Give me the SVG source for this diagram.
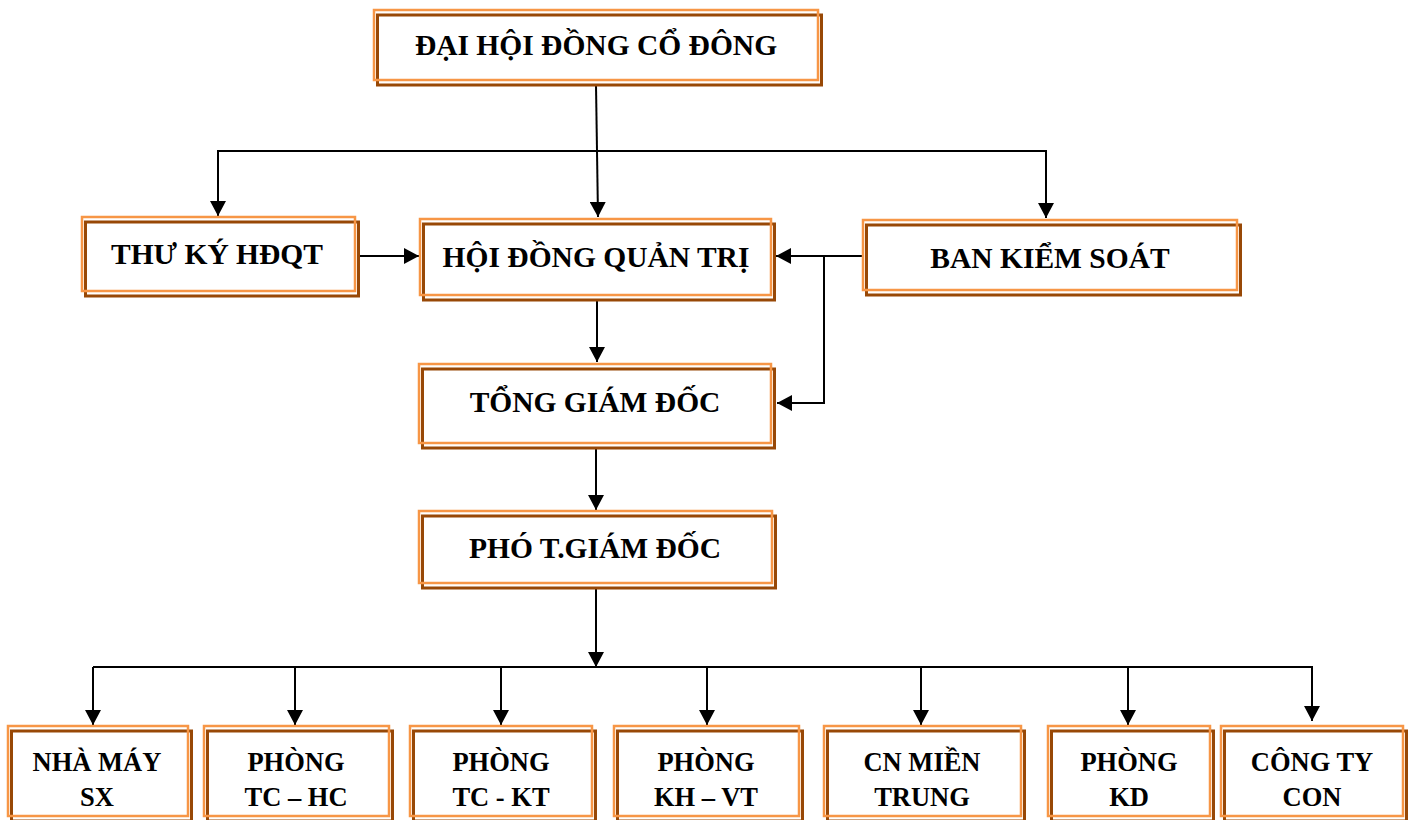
<svg xmlns="http://www.w3.org/2000/svg" width="1408" height="820" viewBox="0 0 1408 820">
<style>
.sh{fill:none;stroke:#984806;stroke-width:3}
.bx{fill:none;stroke:#F79646;stroke-width:2.5}
.t{font-family:"Liberation Serif","Times New Roman",serif;font-weight:bold;font-size:29.5px;fill:#000;text-anchor:middle}
.s{font-size:26.5px}
.c{fill:none;stroke:#000;stroke-width:2}
</style>
<defs>
<marker id="ar" markerUnits="userSpaceOnUse" markerWidth="16" markerHeight="16" refX="15" refY="8" orient="auto" viewBox="0 0 16 16">
<path d="M0,0 L15,8 L0,16 z" fill="#000"/>
</marker>
</defs>
<rect width="1408" height="820" fill="#fff"/>
<g id="connectors">
<path class="c" d="M596,85 L598,217" marker-end="url(#ar)"/>
<path class="c" d="M597,151 H218 V216" marker-end="url(#ar)"/>
<path class="c" d="M597,151 H1046 V218" marker-end="url(#ar)"/>
<path class="c" d="M358,256 H419" marker-end="url(#ar)"/>
<path class="c" d="M863,256 H776" marker-end="url(#ar)"/>
<path class="c" d="M824,256 V403 H777" marker-end="url(#ar)"/>
<path class="c" d="M597,299 V362" marker-end="url(#ar)"/>
<path class="c" d="M596,449 V510" marker-end="url(#ar)"/>
<path class="c" d="M596,588 V667" marker-end="url(#ar)"/>
<path class="c" d="M93,667 H1313"/>
<path class="c" d="M93,667 V725" marker-end="url(#ar)"/>
<path class="c" d="M295,667 V725" marker-end="url(#ar)"/>
<path class="c" d="M501,667 V725" marker-end="url(#ar)"/>
<path class="c" d="M707,667 V725" marker-end="url(#ar)"/>
<path class="c" d="M921,667 V725" marker-end="url(#ar)"/>
<path class="c" d="M1128,667 V725" marker-end="url(#ar)"/>
<path class="c" d="M1312,667 V721" marker-end="url(#ar)"/>
</g>
<g id="dhdcd">
<rect class="sh" x="377.5" y="15" width="444" height="70"/>
<rect class="bx" x="374" y="10" width="444" height="70"/>
<text class="t" x="596" y="55">ĐẠI HỘI ĐỒNG CỔ ĐÔNG</text>
</g>
<g id="thuky">
<rect class="sh" x="85.5" y="222" width="273" height="74"/>
<rect class="bx" x="82" y="217" width="273" height="74"/>
<text class="t" x="217" y="264">THƯ KÝ HĐQT</text>
</g>
<g id="hdqt">
<rect class="sh" x="423.5" y="224" width="351" height="76"/>
<rect class="bx" x="420" y="219" width="351" height="76"/>
<text class="t" x="596" y="267">HỘI ĐỒNG QUẢN TRỊ</text>
</g>
<g id="bks">
<rect class="sh" x="866.5" y="225" width="374" height="70"/>
<rect class="bx" x="863" y="220" width="374" height="70"/>
<text class="t" x="1050" y="268">BAN KIỂM SOÁT</text>
</g>
<g id="tgd">
<rect class="sh" x="422.5" y="369" width="352" height="79"/>
<rect class="bx" x="419" y="364" width="352" height="79"/>
<text class="t" x="595" y="412">TỔNG GIÁM ĐỐC</text>
</g>
<g id="ptgd">
<rect class="sh" x="422.5" y="516" width="353" height="72"/>
<rect class="bx" x="419" y="511" width="353" height="72"/>
<text class="t" x="595" y="558">PHÓ T.GIÁM ĐỐC</text>
</g>
<g id="nhamay">
<rect class="sh" x="11.5" y="731" width="180" height="90"/>
<rect class="bx" x="8" y="726" width="180" height="90"/>
<text class="t s" x="97" y="771">NHÀ MÁY</text>
<text class="t s" x="97" y="806">SX</text>
</g>
<g id="tchc">
<rect class="sh" x="207.5" y="731" width="185" height="90"/>
<rect class="bx" x="204" y="726" width="185" height="90"/>
<text class="t s" x="296" y="771">PHÒNG</text>
<text class="t s" x="296" y="806">TC – HC</text>
</g>
<g id="tckt">
<rect class="sh" x="413.5" y="731" width="182" height="90"/>
<rect class="bx" x="410" y="726" width="182" height="90"/>
<text class="t s" x="501" y="771">PHÒNG</text>
<text class="t s" x="501" y="806">TC - KT</text>
</g>
<g id="khvt">
<rect class="sh" x="617.5" y="731" width="185" height="90"/>
<rect class="bx" x="614" y="726" width="185" height="90"/>
<text class="t s" x="706" y="771">PHÒNG</text>
<text class="t s" x="706" y="806">KH – VT</text>
</g>
<g id="cnmt">
<rect class="sh" x="827.5" y="731" width="197" height="90"/>
<rect class="bx" x="824" y="726" width="197" height="90"/>
<text class="t s" x="922" y="771">CN MIỀN</text>
<text class="t s" x="922" y="806">TRUNG</text>
</g>
<g id="kd">
<rect class="sh" x="1051.5" y="731" width="162" height="90"/>
<rect class="bx" x="1048" y="726" width="162" height="90"/>
<text class="t s" x="1129" y="771">PHÒNG</text>
<text class="t s" x="1129" y="806">KD</text>
</g>
<g id="congtycon">
<rect class="sh" x="1224.5" y="731" width="182" height="90"/>
<rect class="bx" x="1221" y="726" width="182" height="90"/>
<text class="t s" x="1312" y="771">CÔNG TY</text>
<text class="t s" x="1312" y="806">CON</text>
</g>
</svg>
